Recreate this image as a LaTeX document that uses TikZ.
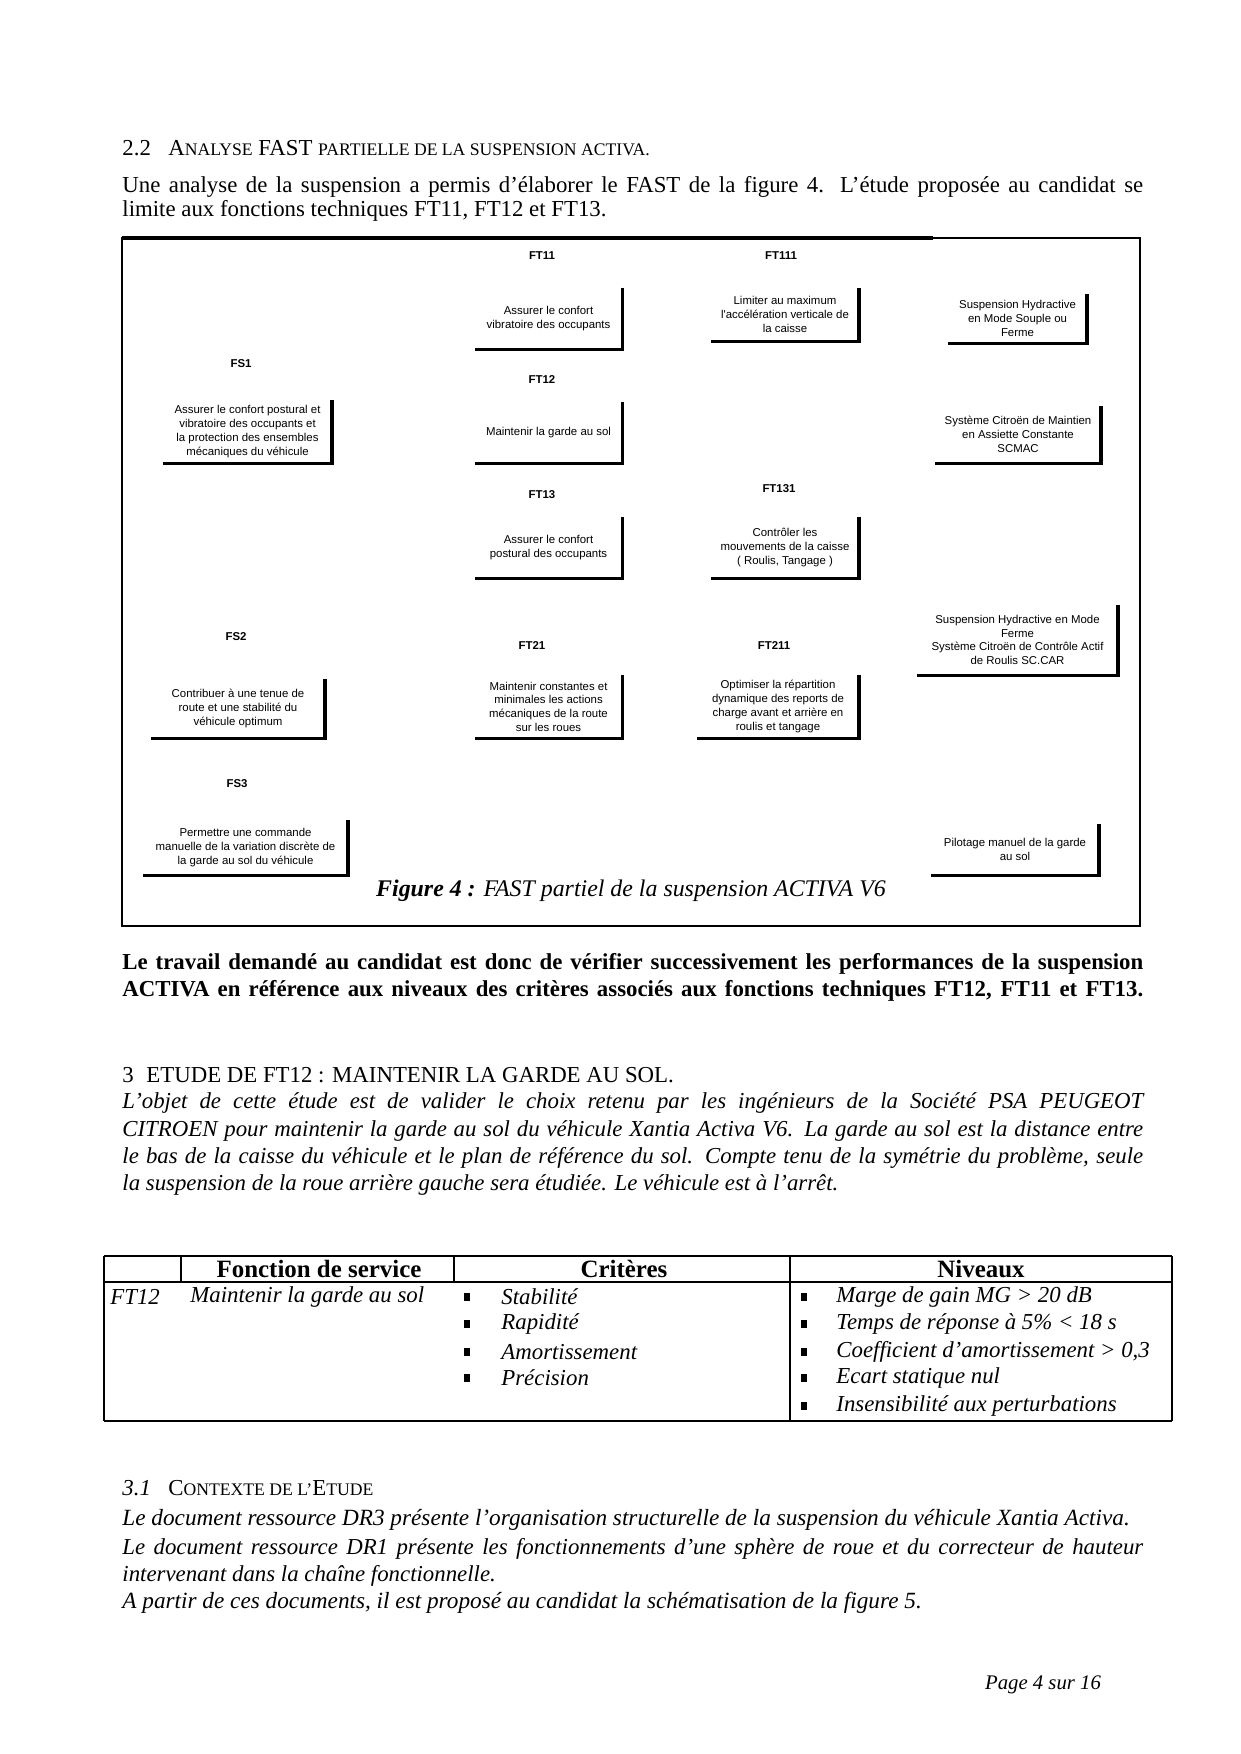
\documentclass[tikz,border=0pt]{standalone}
\usepackage{fontspec}
\setmainfont{Liberation Serif}
\newfontfamily\arialfont{Liberation Sans}
% petites capitales simulees
\newcommand\pcap[1]{{\fontsize{8.5}{10}\selectfont #1}}
% ligne justifiee sur la largeur de la page
\newcommand\ligne[1]{\makebox[17.29cm][s]{#1}}
\tikzset{
  fbox/.style 2 args={font=\arialfont\fontsize{5.5}{6.6}\selectfont, align=center,
    inner sep=1pt, minimum width=#1pt, minimum height=#2pt},
  flabel/.style={font=\arialfont\bfseries\fontsize{5.5}{6.5}\selectfont},
  ombre/.style={line width=1.6pt},
  texte/.style={anchor=west, inner sep=0pt, font=\fontsize{11}{13}\selectfont},
  puce/.style={fill, minimum width=2.6pt, minimum height=3.6pt, inner sep=0pt},
  trait/.style={line width=0.5pt},
}
\begin{document}
\begin{tikzpicture}[x=0.016933cm, y=-0.016933cm]
  \useasboundingbox (0,0) rectangle (1240,1754);

  % 2.2
  \node[texte] (t22) at (122,148) {2.2};
  \node[texte] (h22) at (168,148) {A\pcap{NALYSE} FAST \pcap{PARTIELLE DE LA SUSPENSION ACTIVA.}};
  \node[texte] (p1a) at (122,187) {\ligne{Une analyse de la suspension a permis d'élaborer le FAST de la figure 4. L'étude proposée au candidat se}};
  \node[texte] (p1b) at (122,211) {limite aux fonctions techniques FT11, FT12 et FT13.};

  % cadre de la figure
  \draw[line width=1pt] (122,238) rectangle (1140,926);
  \draw[line width=1.6pt] (122,238) -- (933,238);

  % FAST
  \node[fbox={81.1}{30.2}] (fs1) at (247.5,431.5) {Assurer le confort postural et\\vibratoire des occupants et\\la protection des ensembles\\mécaniques du véhicule};
  \node[fbox={70.6}{29.3}] (ft11) at (548.5,318.5) {Assurer le confort\\vibratoire des occupants};
  \node[fbox={71.0}{25.4}] (ft111) at (785,314.5) {Limiter au maximum\\l'accélération verticale de\\la caisse};
  \node[fbox={66.7}{23.5}] (sol1) at (1017.5,318.5) {Suspension Hydractive\\en Mode Souple ou\\Ferme};
  \node[fbox={70.6}{29.3}] (ft12) at (548.5,432.5) {Maintenir la garde au sol};
  \node[fbox={79.7}{27.4}] (sol2) at (1018,434.5) {Système Citroën de Maintien\\en Assiette Constante\\SCMAC};
  \node[fbox={70.6}{29.3}] (ft13) at (548.5,547.5) {Assurer le confort\\postural des occupants};
  \node[fbox={71.0}{29.3}] (ft131) at (785,547.5) {Contrôler les\\mouvements de la caisse\\( Roulis, Tangage )};
  \node[fbox={96.5}{33.6}] (sol3) at (1017.5,640) {Suspension Hydractive en Mode\\Ferme\\Système Citroën de Contrôle Actif\\de Roulis SC.CAR};
  \node[fbox={83.5}{28.3}] (fs2) at (238,708.5) {Contribuer à une tenue de\\route et une stabilité du\\véhicule optimum};
  \node[fbox={70.6}{30.2}] (ft21) at (548.5,706.5) {Maintenir constantes et\\minimales les actions\\mécaniques de la route\\sur les roues};
  \node[fbox={77.8}{30.2}] (ft211) at (778,706.5) {Optimiser la répartition\\dynamique des reports de\\charge avant et arrière en\\roulis et tangage};
  \node[fbox={98.4}{26.4}] (fs3) at (245.5,847.5) {Permettre une commande\\manuelle de la variation discrète de\\la garde au sol du véhicule};
  \node[fbox={80.6}{24.5}] (sol4) at (1015,849.5) {Pilotage manuel de la garde\\au sol};

  \foreach \n in {fs1,ft11,ft111,sol1,ft12,sol2,ft13,ft131,sol3,fs2,ft21,ft211,fs3,sol4}
    \draw[ombre] (\n.north east) -- (\n.south east) -- (\n.south west);

  \node[flabel] (lfs1) at (241,364) {FS1};
  \node[flabel] (lft11) at (542,256) {FT11};
  \node[flabel] (lft111) at (781,256) {FT111};
  \node[flabel] (lft12) at (542,380) {FT12};
  \node[flabel] (lft13) at (542,495) {FT13};
  \node[flabel] (lft131) at (779,489) {FT131};
  \node[flabel] (lfs2) at (236,637) {FS2};
  \node[flabel] (lft21) at (532,646) {FT21};
  \node[flabel] (lft211) at (774,646) {FT211};
  \node[flabel] (lfs3) at (237,784) {FS3};

  \node[font=\fontsize{11.5}{14}\selectfont\itshape] (legende) at (631,891) {\textbf{Figure 4 :} FAST partiel de la suspension ACTIVA V6};

  % travail demande
  \node[texte, font=\fontsize{11}{13}\selectfont\bfseries] (p2a) at (122,964) {\ligne{Le travail demandé au candidat est donc de vérifier successivement les performances de la suspension}};
  \node[texte, font=\fontsize{11}{13}\selectfont\bfseries] (p2b) at (122,991) {\ligne{ACTIVA en référence aux niveaux des critères associés aux fonctions techniques FT12, FT11 et FT13.}};

  % 3
  \node[texte] (t3) at (122,1075) {3};
  \node[texte] (h3) at (146,1075) {ETUDE DE FT12 : MAINTENIR LA GARDE AU SOL.};
  \node[texte, font=\fontsize{11}{13}\selectfont\itshape] (p3a) at (122,1103) {\ligne{L'objet de cette étude est de valider le choix retenu par les ingénieurs de la Société PSA PEUGEOT}};
  \node[texte, font=\fontsize{11}{13}\selectfont\itshape] (p3b) at (122,1131) {\ligne{CITROEN pour maintenir la garde au sol du véhicule Xantia Activa V6. La garde au sol est la distance entre}};
  \node[texte, font=\fontsize{11}{13}\selectfont\itshape] (p3c) at (122,1158) {\ligne{le bas de la caisse du véhicule et le plan de référence du sol. Compte tenu de la symétrie du problème, seule}};
  \node[texte, font=\fontsize{11}{13}\selectfont\itshape] (p3d) at (122,1185) {la suspension de la roue arrière gauche sera étudiée. Le véhicule est à l'arrêt.};

  % tableau
  \draw[trait] (104,1256) -- (1172,1256);
  \draw[trait] (104,1282) -- (1172,1282);
  \draw[trait] (104,1421) -- (1172,1421);
  \draw[trait] (104,1256) -- (104,1421);
  \draw[trait] (181,1256) -- (181,1282);
  \draw[trait] (454,1256) -- (454,1282);
  \draw[trait] (790,1256) -- (790,1421);
  \draw[trait] (1172,1256) -- (1172,1421);
  \node[font=\fontsize{12}{14}\selectfont\bfseries] (hfs) at (319,1269) {Fonction de service};
  \node[font=\fontsize{12}{14}\selectfont\bfseries] (hcr) at (624,1269) {Critères};
  \node[font=\fontsize{12}{14}\selectfont\bfseries] (hni) at (981,1269) {Niveaux};
  \node[texte, font=\fontsize{11}{13}\selectfont\itshape] (cft12) at (110,1297) {FT12};
  \node[texte, font=\fontsize{11}{13}\selectfont\itshape] (cfs) at (190,1297) {Maintenir la garde au sol};
  \foreach \yy/\txt in {1297/Stabilité,1324/Rapidité,1352/Amortissement,1378/Précision} {
    \node[puce] (pc\yy) at (467,\yy) {};
    \node[texte, font=\fontsize{11}{13}\selectfont\itshape] (cr\yy) at (501,\yy) {\txt};
  }
  \foreach \yy/\txt in {1297/Marge de gain MG > 20 dB,1324/Temps de réponse à 5\% < 18 s,
      1352/{Coefficient d'amortissement > 0,3},1378/Ecart statique nul,1406/Insensibilité aux perturbations} {
    \node[puce] (pn\yy) at (804,\yy) {};
    \node[texte, font=\fontsize{11}{13}\selectfont\itshape] (ni\yy) at (836,\yy) {\txt};
  }

  % 3.1
  \node[texte, font=\fontsize{11}{13}\selectfont\itshape] (t31) at (122,1488) {3.1};
  \node[texte] (h31) at (168,1488) {C\pcap{ONTEXTE DE L'}E\pcap{TUDE}};
  \node[texte, font=\fontsize{11.2}{13}\selectfont\itshape] (p4a) at (122,1520) {Le document ressource DR3 présente l'organisation structurelle de la suspension du véhicule Xantia Activa.};
  \node[texte, font=\fontsize{11}{13}\selectfont\itshape] (p4b) at (122,1549) {\ligne{Le document ressource DR1 présente les fonctionnements d'une sphère de roue et du correcteur de hauteur}};
  \node[texte, font=\fontsize{11}{13}\selectfont\itshape] (p4c) at (122,1576) {intervenant dans la chaîne fonctionnelle.};
  \node[texte, font=\fontsize{11.2}{13}\selectfont\itshape] (p4d) at (122,1603) {A partir de ces documents, il est proposé au candidat la schématisation de la figure 5.};

  \node[font=\fontsize{10}{12}\selectfont\itshape] (page) at (1043,1685) {Page 4 sur 16};
\end{tikzpicture}
\end{document}
